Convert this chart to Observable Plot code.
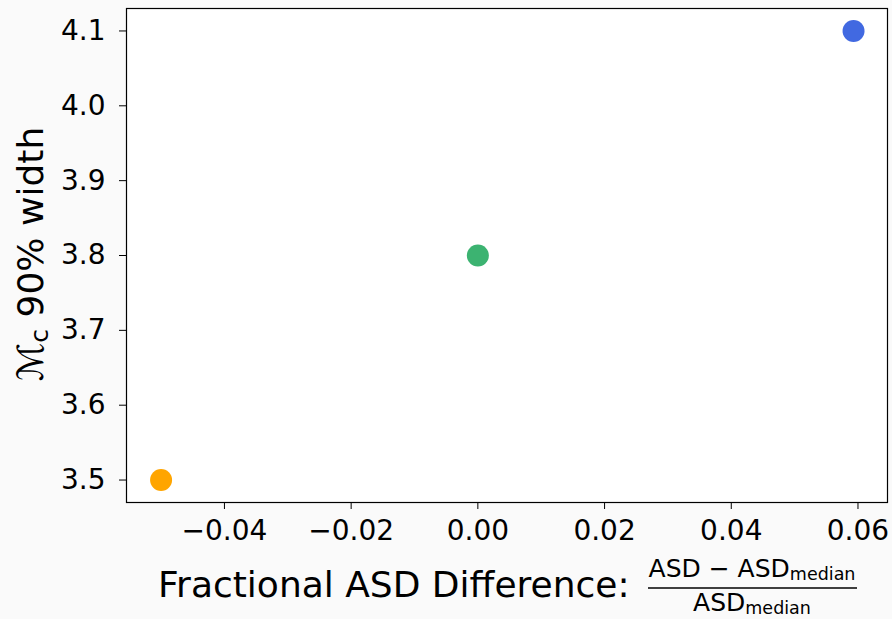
<!DOCTYPE html>
<html>
<head>
<meta charset="utf-8">
<script src="https://cdn.jsdelivr.net/npm/d3@7"></script>
<script src="https://cdn.jsdelivr.net/npm/@observablehq/plot@0.6"></script>
<style>
  html, body { margin: 0; padding: 0; background: #fafafa; }
  #chart { width: 892px; height: 619px; }
  text { font-family: "DejaVu Sans", sans-serif; }
</style>
</head>
<body>
<div id="chart"></div>
<script>
// Data
const xValues = [-0.05, 0.0, 0.0593];
const yValues = [3.5, 3.8, 4.1];
const pointColors = ["orange", "mediumseagreen", "royalblue"];
const xTicks = [-0.04, -0.02, 0.0, 0.02, 0.04, 0.06];
const yTicks = [3.5, 3.6, 3.7, 3.8, 3.9, 4.0, 4.1];

const points = xValues.map((x, i) => ({x, y: yValues[i], c: pointColors[i]}));

const W = 892, H = 619;
const mL = 126, mR = 5, mT = 8, mB = 117;

const plot = Plot.plot({
  width: W,
  height: H,
  marginLeft: mL,
  marginRight: mR,
  marginTop: mT,
  marginBottom: mB,
  style: {fontFamily: "DejaVu Sans", background: "transparent", overflow: "visible"},
  x: {domain: [-0.05546, 0.06466]},
  y: {domain: [3.47, 4.13]},
  marks: [
    Plot.frame({fill: "white", stroke: null}),
    Plot.axisX({ticks: xTicks, tickFormat: d3.format(".2f"), tickSize: 7, tickPadding: 11, fontSize: 28, label: null, stroke: "black", color: "black"}),
    Plot.axisY({ticks: yTicks, tickFormat: d3.format(".1f"), tickSize: 7, tickPadding: 14, fontSize: 28, label: null, stroke: "black", color: "black"}),
    Plot.dot(points, {x: "x", y: "y", fill: "c", r: 11}),
    Plot.frame({stroke: "black", strokeWidth: 1.2})
  ]
});

document.getElementById("chart").appendChild(plot);

// Axis labels
const svg = d3.select(plot);

// X label: "Fractional ASD Difference:" + fraction
svg.append("text")
  .attr("x", 158).attr("y", 597)
  .attr("text-anchor", "start")
  .attr("font-size", 36)
  .attr("fill", "black")
  .text("Fractional ASD Difference:");

const fx = 752;
const num = svg.append("text")
  .attr("x", fx).attr("y", 577)
  .attr("text-anchor", "middle")
  .attr("font-size", 25)
  .attr("fill", "black");
num.append("tspan").text("ASD − ASD");
num.append("tspan").attr("font-size", 17.5).attr("dy", 3).text("median");

svg.append("line")
  .attr("x1", 648).attr("x2", 857)
  .attr("y1", 588).attr("y2", 588)
  .attr("stroke", "black").attr("stroke-width", 1.3);

const den = svg.append("text")
  .attr("x", fx).attr("y", 611)
  .attr("text-anchor", "middle")
  .attr("font-size", 25)
  .attr("fill", "black");
den.append("tspan").text("ASD");
den.append("tspan").attr("font-size", 17.5).attr("dy", 3).text("median");

// Y label
const yl = svg.append("text")
  .attr("transform", `translate(43, 254) rotate(-90)`)
  .attr("text-anchor", "middle")
  .attr("font-size", 36)
  .attr("fill", "black");
yl.append("tspan").text("ℳ");
yl.append("tspan").attr("font-size", 25).attr("dy", 5).text("c");
yl.append("tspan").attr("dy", -5).text(" 90% width");
</script>
</body>
</html>
